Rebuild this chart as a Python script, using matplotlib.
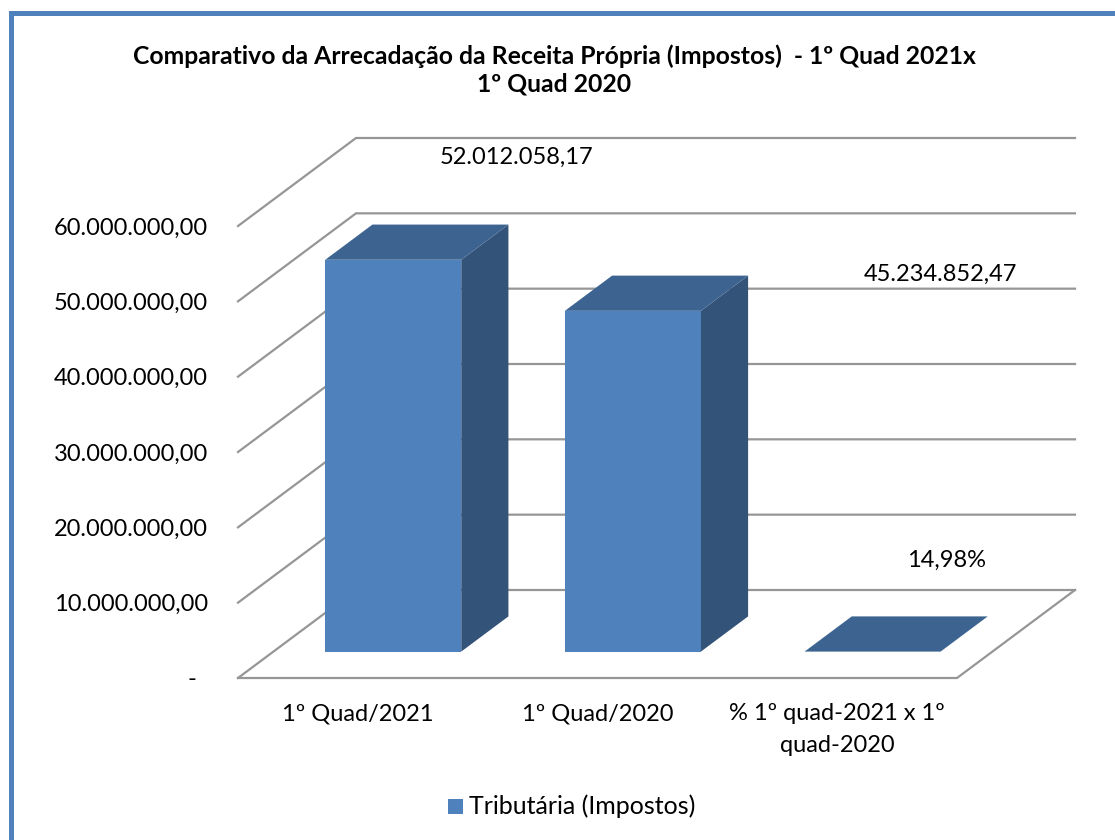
import matplotlib
matplotlib.use("Agg")
import matplotlib.pyplot as plt
from matplotlib.patches import Polygon, Rectangle

categories = ["1º Quad/2021", "1º Quad/2020", "% 1º quad-2021 x 1º\nquad-2020"]
values = [52012058.17, 45234852.47, 14.98]
value_labels = ["52.012.058,17", "45.234.852,47", "14,98%"]
ticks = [0, 10000000, 20000000, 30000000, 40000000, 50000000, 60000000]
tick_labels = ["-", "10.000.000,00", "20.000.000,00", "30.000.000,00",
               "40.000.000,00", "50.000.000,00", "60.000.000,00"]
title = "Comparativo da Arrecadação da Receita Própria (Impostos)  - 1º Quad 2021x\n1º Quad 2020"
legend_label = "Tributária (Impostos)"

W, H = 1115, 840
plt.rcParams['font.family'] = ['Lato', 'DejaVu Sans']
fig = plt.figure(figsize=(W / 100, H / 100), dpi=100, facecolor="white")

# Frame
bg = fig.add_axes([0, 0, 1, 1])
bg.set_xlim(0, W); bg.set_ylim(H, 0); bg.axis("off")
bg.add_patch(Rectangle((10.5, 13), W + 20, H + 20, fc="white", ec="#4F81BD", lw=3.6))

# Front plane of the 3D chart
L, R, T, B = 238, 957, 226, 678
ax = fig.add_axes([L / W, 1 - B / H, (R - L) / W, (B - T) / H])
ax.set_xlim(0, 3); ax.set_ylim(0, 60000000)
ax.axis("off")
DX = 118 / (R - L) * 3
DY = 88 / (B - T) * 60000000

def P(x, y, d):
    return (x + DX * d, y + DY * d)

GRID = "#969696"
for t in ticks:
    ax.plot(*zip(P(0, t, 0), P(0, t, 1), P(3, t, 1)), color=GRID, lw=1.6,
            clip_on=False, zorder=1, solid_joinstyle="miter")
ax.plot(*zip(P(0, 0, 0), P(3, 0, 0), P(3, 0, 1)), color=GRID, lw=1.6,
        clip_on=False, zorder=1, solid_joinstyle="miter")

FRONT, TOP, SIDE = "#4F81BD", "#3D6491", "#335379"
bw = 136 / (R - L) * 3
d0, d1 = 0.3, 0.7
for i, v in enumerate(values):
    x0 = i + 0.5 - bw / 2
    x1 = x0 + bw
    ax.add_patch(Polygon([P(x1, 0, d0), P(x1, 0, d1), P(x1, v, d1), P(x1, v, d0)],
                         fc=SIDE, ec="none", clip_on=False, zorder=3))
    ax.add_patch(Polygon([P(x0, v, d0), P(x1, v, d0), P(x1, v, d1), P(x0, v, d1)],
                         fc=TOP, ec="none", clip_on=False, zorder=3))
    ax.add_patch(Polygon([P(x0, 0, d0), P(x1, 0, d0), P(x1, v, d0), P(x0, v, d0)],
                         fc=FRONT, ec="none", clip_on=False, zorder=4))

FS = 17
# Tick labels
for t, lab in zip(ticks, tick_labels):
    off = -42 if lab == "-" else -30
    ax.annotate(lab, (0, t), xytext=(off, 0), textcoords="offset pixels",
                ha="right", va="center_baseline", fontsize=FS, annotation_clip=False)
# Category labels
for i, c in enumerate(categories):
    ax.annotate(c, (i + 0.5, 0), xytext=(0, -25), textcoords="offset pixels",
                ha="center", va="top", fontsize=FS, linespacing=1.62,
                annotation_clip=False)
# Value labels
label_off = [(159, 131), (343, 65), (109, 120)]
for i, (v, lab) in enumerate(zip(values, value_labels)):
    ax.annotate(lab, (i + 0.5, v), xytext=label_off[i], textcoords="offset pixels",
                ha="center", va="center_baseline", fontsize=FS,
                annotation_clip=False, zorder=6)

bg.text(554, 70, title, ha="center", va="center", fontsize=17.8, fontweight="bold",
        linespacing=1.25)
bg.add_patch(Rectangle((448, 799), 15, 15, fc=FRONT, ec="none"))
bg.text(469, 806, legend_label, ha="left", va="center", fontsize=18)

fig.savefig("out.png", dpi=100, facecolor="white")
